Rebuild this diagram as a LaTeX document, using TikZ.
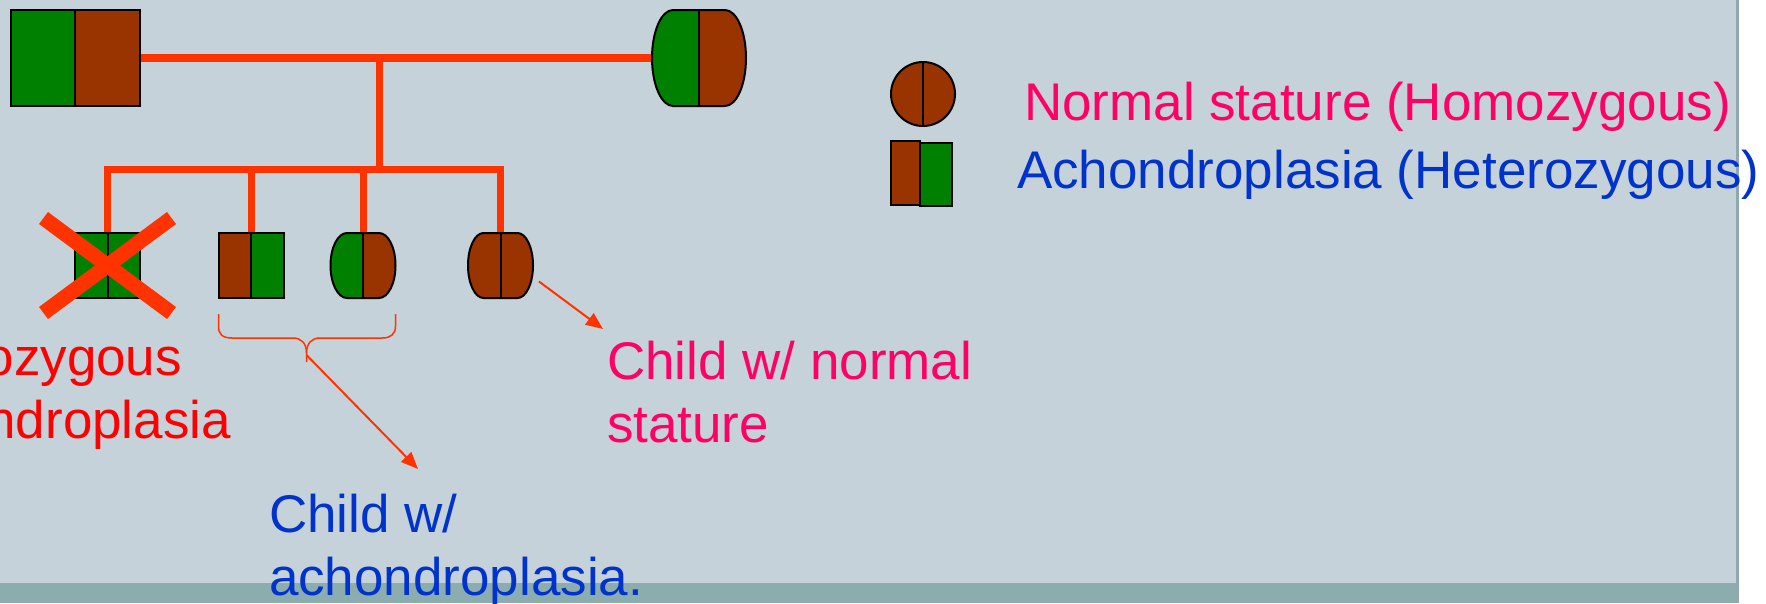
\documentclass[tikz,border=0pt]{standalone}
\usepackage{fontspec}
\setmainfont{Liberation Sans}
\usetikzlibrary{arrows.meta,calc}
\definecolor{bgc}{HTML}{C6D2D9}
\definecolor{barc}{HTML}{8BADAE}
\definecolor{edgec}{HTML}{8FA9AE}
\definecolor{linec}{HTML}{FF3300}
\definecolor{gr}{HTML}{008000}
\definecolor{br}{HTML}{993300}
\definecolor{pinkt}{HTML}{FF0066}
\definecolor{bluet}{HTML}{0033CC}
\definecolor{redt}{HTML}{FF0000}
\tikzset{
  slot/.style={draw=none, inner sep=0, outer sep=0, rectangle},
  outl/.style={draw=black, line width=2pt},
  pline/.style={draw=linec, line width=7pt, line join=miter},
  arr/.style={draw=linec, line width=2pt, -{Triangle[length=17pt,width=14pt]}},
  lbl/.style={inner sep=0, outer sep=0, font=\fontsize{53}{64}\selectfont},
}
\newcommand\splitsq[3]{%
  \fill[#2] (#1.north west) rectangle (#1.south);
  \fill[#3] (#1.north) rectangle (#1.south east);
  \draw[outl] (#1.north west) rectangle (#1.south east);
  \draw[outl] (#1.north) -- (#1.south);}
% barrel outline about the origin: flat half width f, side radius r, half height h
\newcommand\barpath[3]{%
  (-#1,-#3) -- (#1,-#3)
  .. controls ({#1+0.5523*#2},-#3) and ({#1+#2},{-0.5523*#3}) .. ({#1+#2},0)
  .. controls ({#1+#2},{0.5523*#3}) and ({#1+0.5523*#2},#3) .. (#1,#3)
  -- (-#1,#3)
  .. controls ({-#1-0.5523*#2},#3) and ({-#1-#2},{0.5523*#3}) .. ({-#1-#2},0)
  .. controls ({-#1-#2},{-0.5523*#3}) and ({-#1-0.5523*#2},-#3) .. (-#1,-#3) -- cycle}
% name, left colour, right colour, f, r, h
\newcommand\splitbar[6]{%
  \begin{scope}[shift={(#1.center)}]
    \begin{scope}
      \clip \barpath{#4}{#5}{#6};
      \fill[#2] (-60,-60) rectangle (0,60);
      \fill[#3] (0,-60) rectangle (60,60);
    \end{scope}
    \draw[outl] \barpath{#4}{#5}{#6};
    \draw[outl] (0,-#6) -- (0,#6);
  \end{scope}}
\begin{document}
\begin{tikzpicture}[x=1pt,y=-1pt]
% background
\fill[white] (0,0) rectangle (1766,603);
\fill[bgc] (0,0) rectangle (1737,583);
\fill[barc] (0,583) rectangle (1737,603);
\fill[edgec] (1736,0) rectangle (1739,603);
\useasboundingbox (0,0) rectangle (1766,603);

% individuals
\node[slot, minimum width=129pt, minimum height=96pt] (father) at (75,58) {};
\node[slot, minimum width=94pt, minimum height=96pt] (mother) at (699,58) {};
\node[slot, minimum width=65pt, minimum height=65pt] (c1) at (107.5,265.5) {};
\node[slot, minimum width=65pt, minimum height=65pt] (c2) at (251,265.5) {};
\node[slot, minimum width=65pt, minimum height=65pt] (c3) at (363,265.5) {};
\node[slot, minimum width=65pt, minimum height=65pt] (c4) at (500.5,265.5) {};

% pedigree lines
\coordinate (m) at (379,58);
\coordinate (s) at (379,169.5);
\draw[pline, line width=8pt] (father.east) -- (mother.west);
\draw[pline] (m) -- (s);
\draw[pline] (c1.north) |- (c4.north |- s) -- (c4.north);
\draw[pline] (c2.north |- s) -- (c2.north);
\draw[pline] (c3.north |- s) -- (c3.north);

% symbols
\splitsq{father}{gr}{br}
\splitbar{mother}{gr}{br}{26}{21}{48}
\splitsq{c1}{gr}{gr}
\splitsq{c2}{br}{gr}
\splitbar{c3}{gr}{br}{16}{16.5}{32.5}
\splitbar{c4}{br}{br}{17}{15.5}{32.5}

% cross over first child
\draw[linec, line width=15pt] ($(c1.center)+(-64,-47.5)$) -- ($(c1.center)+(64,47.5)$);
\draw[linec, line width=15pt] ($(c1.center)+(64,-47.5)$) -- ($(c1.center)+(-64,47.5)$);

% legend
\node[circle, minimum size=64pt, inner sep=0, fill=br, outl] (lc) at (923,94) {};
\draw[outl] (lc.north) -- (lc.south);
\node[slot, fill=br, outl, minimum width=29pt, minimum height=64pt] (lb) at (905.5,173) {};
\node[slot, fill=gr, outl, minimum width=32pt, minimum height=63pt] (lg) at (936,174.5) {};
\node[lbl, text=pinkt, anchor=base west] (t1) at (1024,120) {Normal stature (Homozygous)};
\node[lbl, text=bluet, anchor=base west] (t2) at (1017,188) {Achondroplasia (Heterozygous)};

% brace under children 2 and 3
\coordinate (bl) at ($(c2.south west)+(0,16)$);
\coordinate (brr) at ($(c3.south east)+(0,16)$);
\coordinate (bt) at (306.5,362);
\draw[linec, line width=1.5pt]
  (bl) -- ++(0,12) .. controls ++(0,8) and (222,338) .. (232,338) -- (293,338)
  .. controls (301,338) and (306.5,343) .. (306.5,353) -- (bt);
\draw[linec, line width=1.5pt]
  (brr) -- ++(0,12) .. controls ++(0,8) and (391,338) .. (382,338) -- (320,338)
  .. controls (312,338) and (306.5,343) .. (306.5,353);

% arrows
\coordinate (a1s) at (306.5,355);
\coordinate (a1e) at (418,469);
\draw[arr] (a1s) -- (a1e);
\coordinate (a2s) at (539,281.5);
\coordinate (a2e) at (603,329);
\draw[arr] (a2s) -- (a2e);

% labels
\node[lbl, text=redt, anchor=base east] (h1) at (182,375) {ozygous};
\node[lbl, text=redt, anchor=base east] (h2) at (231,438) {ndroplasia};
\node[lbl, text=pinkt, anchor=base west] (n1) at (607,379) {Child w/ normal};
\node[lbl, text=pinkt, anchor=base west] (n2) at (607,442) {stature};
\node[lbl, text=bluet, anchor=base west] (k1) at (269,532) {Child w/};
\node[lbl, text=bluet, anchor=base west] (k2) at (269,595) {achondroplasia.};
\end{tikzpicture}
\end{document}
